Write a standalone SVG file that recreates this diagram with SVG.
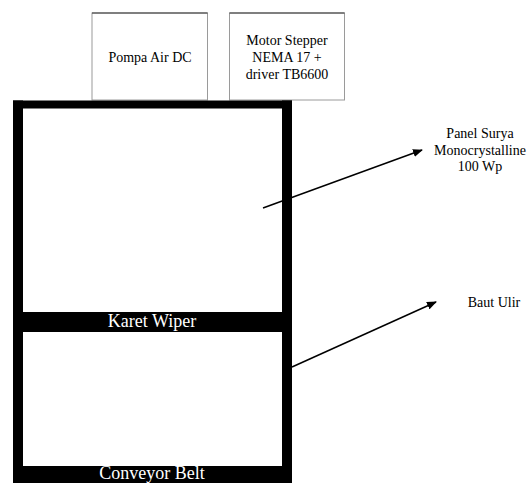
<svg xmlns="http://www.w3.org/2000/svg" width="528" height="483" viewBox="0 0 528 483">
<defs>
<style>
.box{fill:#fff;stroke:#9a9a9a;stroke-width:1}
.bar{fill:#000}
.t{font-family:"Liberation Serif","Times New Roman",serif;font-size:14px;fill:#000;text-anchor:middle}
.w{font-family:"Liberation Serif","Times New Roman",serif;font-size:18px;fill:#fff;text-anchor:middle}
.c{stroke:#000;stroke-width:1.5;fill:none}
</style>
<marker id="ah" viewBox="0 0 10 10" refX="9" refY="5" markerWidth="10" markerHeight="8" markerUnits="userSpaceOnUse" orient="auto" preserveAspectRatio="none">
<path d="M0,0 L10,5 L0,10 z" fill="#000"/>
</marker>
</defs>
<rect width="528" height="483" fill="#fff"/>
<g id="pompa">
<rect class="box" x="92" y="13" width="115.5" height="87"/>
<path d="M92 13H207.5" stroke="#333" stroke-width="1"/>
<text class="t" x="150" y="62">Pompa Air DC</text>
</g>
<g id="motor">
<rect class="box" x="229.5" y="13" width="115" height="87"/>
<path d="M229.5 13H344.5" stroke="#333" stroke-width="1"/>
<text class="t" x="287" y="45">Motor Stepper</text>
<text class="t" x="287" y="62">NEMA 17 +</text>
<text class="t" x="287" y="79">driver TB6600</text>
</g>
<g id="frame">
<rect class="bar" x="13" y="100.5" width="279" height="8"/>
<rect class="bar" x="13" y="100.5" width="10" height="383"/>
<rect class="bar" x="282" y="100.5" width="10" height="383"/>
</g>
<g id="karet-wiper">
<rect class="bar" x="13" y="312" width="279" height="20"/>
<text class="w" x="152" y="327">Karet Wiper</text>
</g>
<g id="conveyor-belt">
<rect class="bar" x="13" y="466" width="279" height="17"/>
<text class="w" x="152" y="479">Conveyor Belt</text>
</g>
<g id="panel-surya">
<text class="t" x="480" y="138">Panel Surya</text>
<text class="t" x="480" y="155">Monocrystalline</text>
<text class="t" x="480" y="171">100 Wp</text>
</g>
<g id="baut-ulir">
<text class="t" x="494" y="307">Baut Ulir</text>
</g>
<g id="connectors">
<line class="c" x1="263" y1="208" x2="422" y2="150" marker-end="url(#ah)"/>
<line class="c" x1="292" y1="367" x2="436" y2="302" marker-end="url(#ah)"/>
</g>
</svg>
